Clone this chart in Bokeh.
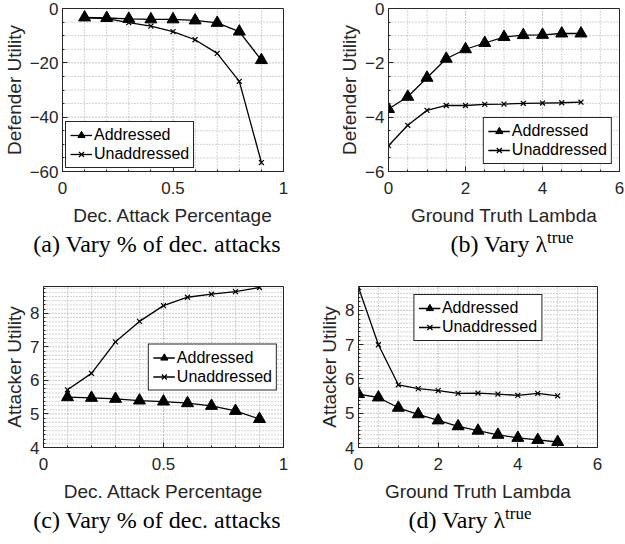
from bokeh.plotting import figure
from bokeh.layouts import column, row
from bokeh.models import Div, Range1d, FixedTicker
from bokeh.embed import file_html
from bokeh.resources import INLINE

# ---------------- data ----------------
dec_pct = [0.1, 0.2, 0.3, 0.4, 0.5, 0.6, 0.7, 0.8, 0.9]
lam_true = [0, 0.5, 1, 1.5, 2, 2.5, 3, 3.5, 4, 4.5, 5]

def_pct_addressed = [-3.3, -3.5, -3.8, -4.0, -4.0, -4.4, -5.3, -8.5, -19.0]
def_pct_unaddressed = [-3.4, -3.7, -5.2, -6.5, -8.5, -11.5, -16.5, -26.8, -56.7]

def_lam_addressed = [-3.7, -3.25, -2.55, -1.85, -1.5, -1.27, -1.05, -0.98, -0.97, -0.92, -0.92]
def_lam_unaddressed = [-5.05, -4.3, -3.75, -3.57, -3.57, -3.53, -3.52, -3.49, -3.48, -3.47, -3.45]

att_pct_addressed = [5.5, 5.48, 5.45, 5.4, 5.37, 5.32, 5.24, 5.09, 4.85]
att_pct_unaddressed = [5.72, 6.21, 7.15, 7.76, 8.23, 8.48, 8.57, 8.65, 8.77]

att_lam_addressed = [5.56, 5.46, 5.16, 4.97, 4.79, 4.62, 4.49, 4.37, 4.28, 4.22, 4.16]
att_lam_unaddressed = [8.67, 7.0, 5.83, 5.72, 5.66, 5.58, 5.59, 5.56, 5.52, 5.58, 5.51]

series_names = ["Addressed", "Unaddressed"]
x_label_pct = "Dec. Attack Percentage"
x_label_lam = "Ground Truth Lambda"
y_label_def = "Defender Utility"
y_label_att = "Attacker Utility"

# ---------------- style ----------------
AX_FONT = "Liberation Sans"
CAP_FONT = "Liberation Serif"
TXT = "#262626"
GRID_MAJOR = "#8a8a8a"
GRID_MINOR = "#a6a6a6"


def steps(a, b, s):
    n = int(round((b - a) / s))
    return [round(a + i * s, 6) for i in range(n + 1)]


def grid_lines(p, xvals, yvals, xr, yr, color):
    xs, ys = [], []
    for v in xvals:
        if xr[0] < v < xr[1]:
            xs.append([v, v])
            ys.append([yr[0], yr[1]])
    for v in yvals:
        if yr[0] < v < yr[1]:
            xs.append([xr[0], xr[1]])
            ys.append([v, v])
    if xs:
        p.multi_line(xs, ys, line_color=color, line_width=1, line_dash="1 2")


def make_fig(x, ya, yu, xr, yr, xt, yt, xminor, yminor, xlab, ylab, loc,
             width, height, mbl, mbr, mbt, mbb, lmargin):
    p = figure(width=width, height=height,
               x_range=Range1d(*xr), y_range=Range1d(*yr),
               output_backend="svg", toolbar_location=None,
               min_border_left=mbl, min_border_right=mbr,
               min_border_top=mbt, min_border_bottom=mbb)
    xtick = FixedTicker(ticks=xt, minor_ticks=xminor)
    ytick = FixedTicker(ticks=yt, minor_ticks=yminor)
    p.xaxis.ticker = xtick
    p.yaxis.ticker = ytick
    p.xgrid.visible = False
    p.ygrid.visible = False
    p.xaxis.axis_label = xlab
    p.yaxis.axis_label = ylab
    for ax in (p.xaxis, p.yaxis):
        ax.axis_label_text_font = AX_FONT
        ax.axis_label_text_font_size = "19px"
        ax.axis_label_text_font_style = "normal"
        ax.axis_label_text_color = TXT
        ax.major_label_text_font = AX_FONT
        ax.major_label_text_font_size = "17px"
        ax.major_label_text_color = TXT
        ax.axis_line_color = TXT
        ax.major_tick_line_color = TXT
        ax.minor_tick_line_color = TXT
        ax.major_tick_in = 5
        ax.major_tick_out = 0
        ax.minor_tick_in = 2
        ax.minor_tick_out = 0
    p.xaxis.major_label_standoff = 10
    p.xaxis.axis_label_standoff = 8
    p.yaxis.major_label_standoff = 4
    p.yaxis.axis_label_standoff = 2

    # dotted MATLAB-style grid, drawn as glyphs beneath the data lines
    grid_lines(p, [v for v in xminor if v not in xt], [v for v in yminor if v not in yt],
               xr, yr, GRID_MINOR)
    grid_lines(p, xt, yt, xr, yr, GRID_MAJOR)

    p.outline_line_color = TXT
    p.outline_line_width = 1
    p.outline_line_alpha = 1

    p.line(x, ya, line_color="black", line_width=1.3, legend_label=series_names[0])
    p.scatter(x, ya, marker="triangle", size=12, fill_color="black",
              line_color="black", legend_label=series_names[0])
    p.line(x, yu, line_color="black", line_width=1.3, legend_label=series_names[1])
    p.scatter(x, yu, marker="x", size=7, line_color="black", line_width=1.2,
              legend_label=series_names[1])

    lg = p.legend[0]
    lg.location = loc
    lg.margin = lmargin
    lg.label_text_font = AX_FONT
    lg.label_text_font_size = "16px"
    lg.label_text_color = "black"
    lg.border_line_color = TXT
    lg.border_line_width = 1
    lg.border_line_alpha = 1
    lg.background_fill_alpha = 1
    lg.padding = 4
    lg.spacing = 1
    lg.label_height = 18
    lg.glyph_height = 18
    lg.glyph_width = 22
    lg.label_standoff = 2
    return p


LW, RW = 305, 320

pa = make_fig(dec_pct, def_pct_addressed, def_pct_unaddressed,
              (0, 1), (-60, 0), [0, 0.5, 1], [-60, -40, -20, 0],
              steps(0, 1, 0.1), steps(-60, 0, 5),
              x_label_pct, y_label_def, "bottom_left",
              LW, 228, 58, 22, 8, 56, 3)
pb = make_fig(lam_true, def_lam_addressed, def_lam_unaddressed,
              (0, 6), (-6, 0), [0, 2, 4, 6], [-6, -4, -2, 0],
              steps(0, 6, 0.5), steps(-6, 0, 0.5),
              x_label_lam, y_label_def, "bottom_right",
              RW, 228, 83, 6, 8, 56, 7)
pc = make_fig(dec_pct, att_pct_addressed, att_pct_unaddressed,
              (0, 1), (4, 8.8), [0, 0.5, 1], [4, 5, 6, 7, 8],
              steps(0, 1, 0.1), steps(4, 8.75, 0.125),
              x_label_pct, y_label_att, "center_right",
              LW, 223, 43, 22, 5, 56, 6)
pd = make_fig(lam_true, att_lam_addressed, att_lam_unaddressed,
              (0, 6), (4, 8.7), [0, 2, 4, 6], [4, 5, 6, 7, 8],
              steps(0, 6, 0.5), steps(4, 8.625, 0.125),
              x_label_lam, y_label_att, "top_center",
              RW, 223, 53, 28, 5, 56, 8)

LAM = ('&lambda;<span style="font-size:17px; position:relative; top:-0.55em;">true</span>')


def caption(html, width, height, pad_left):
    return Div(text=(
        f'<div style="box-sizing:border-box; width:{width}px; padding-left:{pad_left}px; '
        f'padding-top:3px; text-align:center; white-space:nowrap; '
        f'font-family:\'{CAP_FONT}\', serif; font-size:24px; line-height:27px; color:black;">'
        f'{html}</div>'), width=width, height=height, margin=0)


ca = caption("(a) Vary % of dec. attacks", LW, 53, 9)
cb = caption("(b) Vary " + LAM, RW, 53, 94)
cc = caption("(c) Vary % of dec. attacks", LW, 38, 9)
cd = caption("(d) Vary " + LAM, RW, 38, 10)

layout = column(row(pa, pb), row(ca, cb), row(pc, pd), row(cc, cd))

open("out.html", "w").write(file_html(layout, INLINE))
